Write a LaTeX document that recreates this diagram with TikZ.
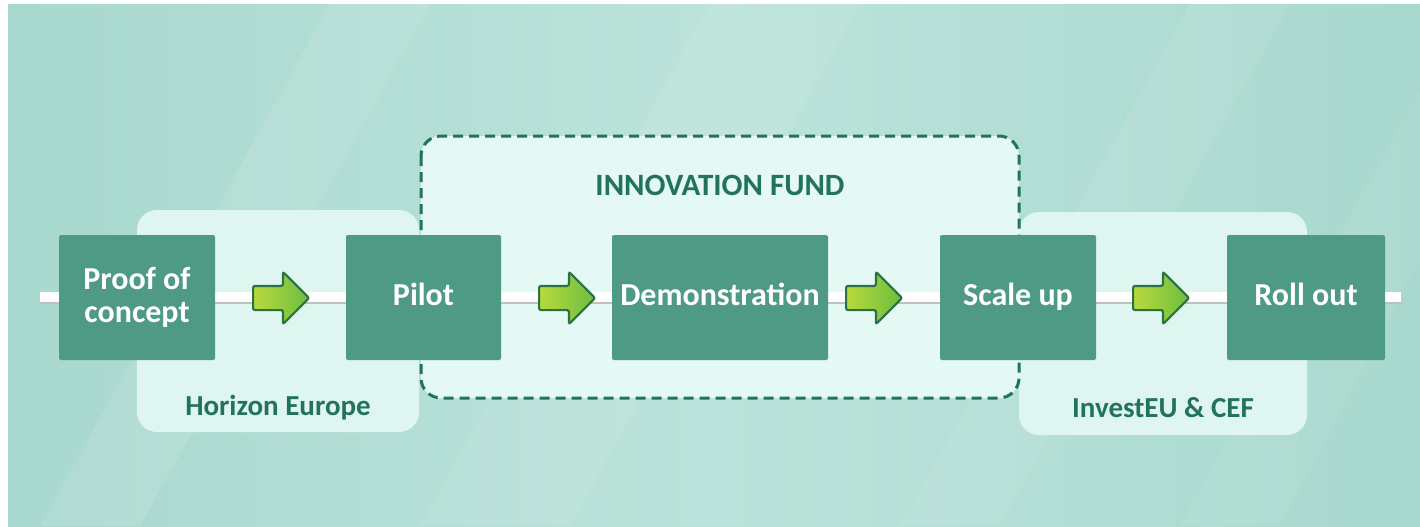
\documentclass[tikz,border=0pt]{standalone}
\usepackage{fontspec}
\setmainfont{Carlito}
\usetikzlibrary{shapes.arrows,positioning}
\definecolor{stagegreen}{HTML}{4E9A85}
\definecolor{darkteal}{HTML}{22735C}
\definecolor{panelmint}{HTML}{DFF5F0}
\definecolor{fundmint}{HTML}{E4F8F4}
\definecolor{bgteal}{HTML}{A8D8CE}
\definecolor{bglight}{HTML}{BCE3DB}
\definecolor{arrowlight}{HTML}{B8DA3C}
\definecolor{arrowdark}{HTML}{6CBD40}
\definecolor{arrowline}{HTML}{2B7148}
\begin{document}
\begin{tikzpicture}[x=0.5pt,y=-0.5pt,
	stage/.style={fill=stagegreen,text=white,font=\fontsize{16}{16.5}\selectfont\bfseries,align=center,minimum height=62.5pt,rounded corners=1pt,inner sep=0pt},
	oneline/.style={text height=11pt,text depth=3.5pt},
	panel/.style={fill=panelmint,rounded corners=10pt},
	grouplabel/.style={text=darkteal,font=\fontsize{14.5}{16}\selectfont\bfseries},
	go/.style={single arrow,anchor=tail,draw=arrowline,line width=1.1pt,left color=arrowlight,right color=arrowdark,minimum width=25pt,minimum height=28pt,single arrow head extend=7pt,inner xsep=0pt,inner ysep=5.5pt,rounded corners=1pt}]
	\useasboundingbox (0,0) rectangle (1420,526);
	%BACKGROUND
	\fill[white] (0,0) rectangle (1420,526);
	\shade[left color=bgteal,right color=bgteal,middle color=bglight] (8,4) rectangle (1420,526);
	\fill[white,opacity=0.10] (40,526) -- (330,4) -- (430,4) -- (140,526) -- cycle;
	\fill[white,opacity=0.08] (420,526) -- (710,4) -- (860,4) -- (570,526) -- cycle;
	\fill[white,opacity=0.08] (900,526) -- (1190,4) -- (1290,4) -- (1000,526) -- cycle;
	\fill[white,opacity=0.06] (1180,526) -- (1420,90) -- (1420,260) -- (1280,526) -- cycle;
	%PANELS
	\fill[panel] (137,210) rectangle (419,432);
	\fill[panel] (1019,212) rectangle (1307,435);
	\draw[darkteal,fill=fundmint,line width=1.5pt,dash pattern=on 5pt off 3pt,rounded corners=10pt] (421,136) rectangle (1019,398);
	\node[grouplabel] (horizon) at (278,408) {Horizon Europe};
	\node[grouplabel] (investeu) at (1163,408) {InvestEU \& CEF};
	\node[grouplabel,font=\fontsize{15.5}{16}\selectfont\bfseries] (innovation) at (720,185) {INNOVATION FUND};
	%TRACK
	\coordinate (start) at (40,297);
	\coordinate (finish) at (1401,297);
	\draw[black!25,line width=5.6pt] ([yshift=-0.6pt]start) -- ([yshift=-0.6pt]finish);
	\draw[white,line width=5pt] (start) -- (finish);
	%STAGES
	\node[stage,minimum width=78pt] (proof) at (137,297.5) {Proof of\\concept};
	\node[stage,oneline,minimum width=77.5pt] (pilot) at (423.5,297.5) {Pilot};
	\node[stage,oneline,minimum width=108pt] (demo) at (720,297.5) {Demonstration};
	\node[stage,oneline,minimum width=78pt] (scale) at (1018,297.5) {Scale up};
	\node[stage,oneline,minimum width=79pt] (roll) at (1306,297.5) {Roll out};
	%ARROWS
	\node[go] (go1) at (252,298) {};
	\node[go] (go2) at (538,298) {};
	\node[go] (go3) at (845,298) {};
	\node[go] (go4) at (1132,298) {};
\end{tikzpicture}
\end{document}
